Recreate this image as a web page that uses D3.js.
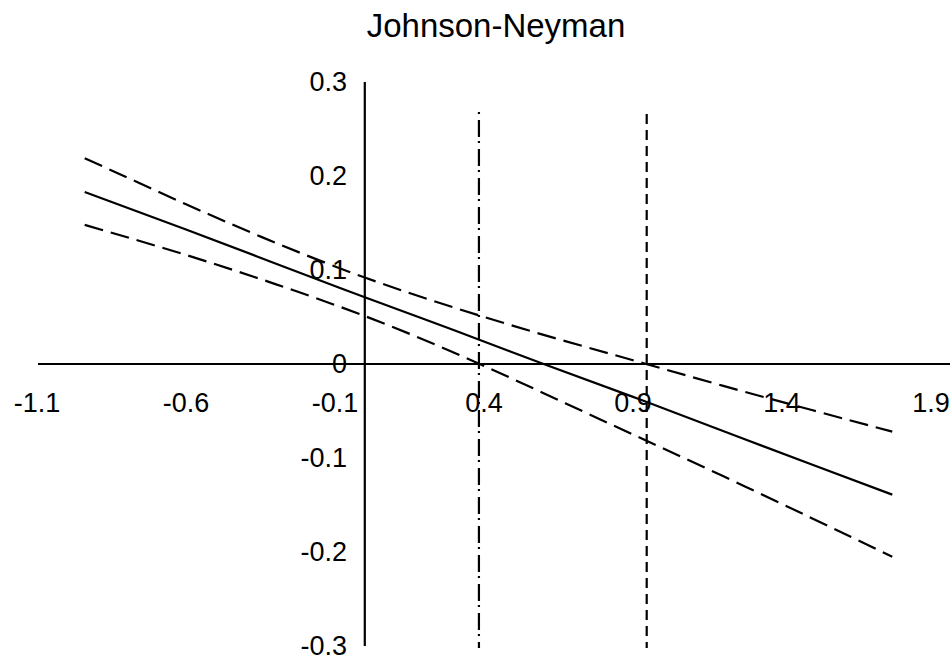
<!DOCTYPE html>
<html>
<head>
<meta charset="utf-8">
<script src="https://cdn.jsdelivr.net/npm/d3@7"></script>
<style>
  body { margin: 0; background: #fff; }
  svg { display: block; font-family: "Liberation Sans", Arial, sans-serif; }
</style>
</head>
<body>
<svg id="chart" width="950" height="660"></svg>
<script>
// moderator values
var modValues = [-0.94, -0.6, -0.3, 0, 0.3, 0.6, 0.9, 1.2, 1.5, 1.77];
var effect    = [0.183, 0.143, 0.107, 0.071, 0.036, 0.000, -0.035, -0.071, -0.107, -0.139];
var upperCI   = [0.219, 0.170, 0.129, 0.092, 0.060, 0.031, 0.004, -0.023, -0.049, -0.072];
var lowerCI   = [0.148, 0.116, 0.085, 0.051, 0.012, -0.031, -0.075, -0.119, -0.164, -0.205];

// Johnson-Neyman region bounds
var jnBounds = [0.383, 0.946];

var xTicks = [-1.1, -0.6, -0.1, 0.4, 0.9, 1.4, 1.9];
var yTicks = [0.3, 0.2, 0.1, 0, -0.1, -0.2, -0.3];

var svg = d3.select("#chart");

var x = d3.scaleLinear().domain([-1.1, 1.9]).range([37, 931]);
var y = d3.scaleLinear().domain([-0.3, 0.3]).range([646, 82]);

// plain hyphen for negatives, like the original
function fmt(d) { return d === 0 ? "0" : d.toFixed(1); }

svg.append("text")
    .attr("x", 496).attr("y", 37)
    .attr("text-anchor", "middle")
    .style("font-size", "33px")
    .text("Johnson-Neyman");

// axes through the origin
svg.append("line")
    .attr("x1", 38).attr("x2", 950)
    .attr("y1", y(0)).attr("y2", y(0))
    .attr("stroke", "#000").attr("stroke-width", 2.2);

svg.append("line")
    .attr("x1", x(0)).attr("x2", x(0))
    .attr("y1", y(0.3)).attr("y2", y(-0.3))
    .attr("stroke", "#000").attr("stroke-width", 2.2);

svg.selectAll("text.xt")
    .data(xTicks)
    .enter().append("text")
    .attr("class", "xt")
    .attr("x", function (d) { return x(d); })
    .attr("y", 412)
    .attr("text-anchor", "middle")
    .style("font-size", "27px")
    .text(fmt);

svg.selectAll("text.yt")
    .data(yTicks)
    .enter().append("text")
    .attr("class", "yt")
    .attr("x", 347)
    .attr("y", function (d) { return y(d); })
    .attr("dy", "0.34em")
    .attr("text-anchor", "end")
    .style("font-size", "27px")
    .text(fmt);

// J-N boundaries
svg.append("line")
    .attr("x1", x(jnBounds[0])).attr("x2", x(jnBounds[0]))
    .attr("y1", 112).attr("y2", 648)
    .attr("stroke", "#000").attr("stroke-width", 2.2)
    .attr("stroke-dasharray", "2,6,17,4");

svg.append("line")
    .attr("x1", x(jnBounds[1])).attr("x2", x(jnBounds[1]))
    .attr("y1", 114).attr("y2", 648)
    .attr("stroke", "#000").attr("stroke-width", 2.2)
    .attr("stroke-dasharray", "10,6");

var line = d3.line()
    .x(function (d, i) { return x(modValues[i]); })
    .y(function (d) { return y(d); })
    .curve(d3.curveNatural);

svg.append("path")
    .attr("d", line(upperCI))
    .attr("fill", "none").attr("stroke", "#000").attr("stroke-width", 2.2)
    .attr("stroke-dasharray", "19,8");

svg.append("path")
    .attr("d", line(lowerCI))
    .attr("fill", "none").attr("stroke", "#000").attr("stroke-width", 2.2)
    .attr("stroke-dasharray", "19,8");

svg.append("path")
    .attr("d", line(effect))
    .attr("fill", "none").attr("stroke", "#000").attr("stroke-width", 2.2);
</script>
</body>
</html>
